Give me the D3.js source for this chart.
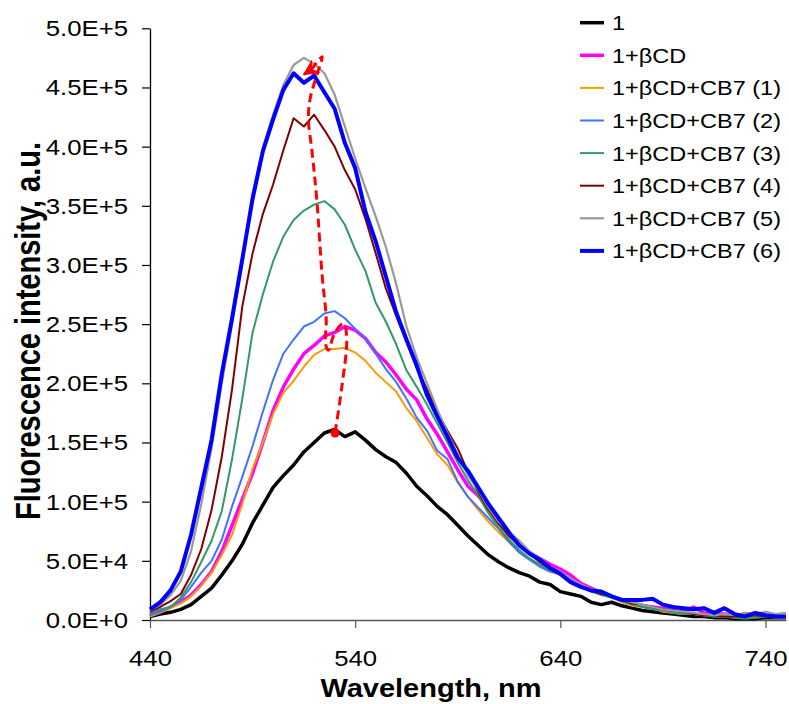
<!DOCTYPE html>
<html>
<head>
<meta charset="utf-8">
<script src="https://d3js.org/d3.v7.min.js"></script>
<style>
  body { margin: 0; background: #fff; }
  svg { display: block; font-family: "Liberation Sans", Arial, sans-serif; }
</style>
</head>
<body>
<svg width="789" height="704"></svg>

<script>
// spectra, values in units of 1E+5, sampled every 5 nm from 440 to 750
var wavelengths = d3.range(440, 751, 5);
var unit = 1e5;

var names = ["1", "1+\u03b2CD", "1+\u03b2CD+CB7 (1)", "1+\u03b2CD+CB7 (2)", "1+\u03b2CD+CB7 (3)",
             "1+\u03b2CD+CB7 (4)", "1+\u03b2CD+CB7 (5)", "1+\u03b2CD+CB7 (6)"];
var colors = ["#000000", "#ff00ff", "#ff9900", "#3f73ff", "#339966", "#800000", "#999999", "#0000ff"];
var widths = [3.5, 3.5, 2, 2, 2, 2, 2.2, 4];

var s1 = [0.03,0.05,0.065,0.09,0.13,0.20,0.27,0.38,0.50,0.64,
          0.82,0.97,1.12,1.22,1.31,1.42,1.50,1.58,1.61,1.55,
          1.59,1.52,1.44,1.38,1.33,1.24,1.13,1.05,0.96,0.89,
          0.80,0.71,0.63,0.55,0.49,0.44,0.40,0.37,0.32,0.30,
          0.24,0.22,0.20,0.15,0.13,0.15,0.12,0.10,0.08,0.07,
          0.06,0.05,0.04,0.03,0.03,0.02,0.02,0.01,0.01,0.01,
          0.02,0.02,0.02];
var s2 = [0.04,0.07,0.11,0.15,0.21,0.30,0.41,0.58,0.80,1.02,
          1.24,1.50,1.77,1.97,2.12,2.25,2.32,2.40,2.43,2.48,
          2.45,2.38,2.26,2.18,2.07,1.95,1.86,1.70,1.57,1.42,
          1.27,1.13,1.05,0.95,0.85,0.72,0.64,0.57,0.52,0.47,
          0.43,0.38,0.31,0.27,0.23,0.20,0.17,0.15,0.12,0.11,
          0.10,0.08,0.07,0.11,0.06,0.05,0.05,0.04,0.03,0.03,
          0.04,0.03,0.03];
var s3 = [0.03,0.06,0.10,0.14,0.20,0.29,0.40,0.55,0.72,0.98,
          1.28,1.50,1.74,1.92,2.02,2.14,2.24,2.29,2.29,2.30,
          2.26,2.19,2.09,2.01,1.93,1.79,1.68,1.54,1.40,1.31,
          1.16,1.04,0.93,0.83,0.74,0.66,0.57,0.51,0.46,0.41,
          0.38,0.33,0.30,0.26,0.22,0.19,0.15,0.12,0.11,0.10,
          0.07,0.06,0.05,0.05,0.04,0.04,0.03,0.03,0.02,0.03,
          0.04,0.03,0.02];
var s4 = [0.04,0.07,0.11,0.17,0.28,0.40,0.50,0.68,0.96,1.21,
          1.47,1.76,2.03,2.25,2.37,2.48,2.52,2.59,2.61,2.55,
          2.46,2.38,2.25,2.12,2.01,1.87,1.71,1.60,1.43,1.36,
          1.17,1.04,0.95,0.86,0.77,0.66,0.57,0.51,0.45,0.41,
          0.39,0.33,0.28,0.25,0.22,0.20,0.16,0.13,0.12,0.10,
          0.08,0.07,0.06,0.05,0.04,0.03,0.03,0.02,0.02,0.02,
          0.03,0.03,0.03];
var s5 = [0.06,0.09,0.11,0.19,0.32,0.49,0.67,0.92,1.36,1.87,
          2.43,2.75,3.03,3.24,3.38,3.46,3.51,3.54,3.47,3.34,
          3.13,2.95,2.68,2.52,2.33,2.11,1.97,1.82,1.66,1.50,
          1.33,1.18,1.05,0.90,0.78,0.68,0.59,0.52,0.47,0.42,
          0.39,0.33,0.28,0.24,0.21,0.19,0.16,0.13,0.11,0.09,
          0.08,0.06,0.05,0.05,0.04,0.03,0.03,0.02,0.01,0.02,
          0.03,0.02,0.02];
var s6 = [0.07,0.11,0.16,0.22,0.38,0.60,0.93,1.38,1.95,2.65,
          3.10,3.43,3.68,3.97,4.24,4.17,4.27,4.14,4.00,3.80,
          3.64,3.39,3.10,2.80,2.57,2.35,2.13,1.95,1.76,1.60,
          1.45,1.25,1.08,0.93,0.81,0.71,0.63,0.56,0.49,0.43,
          0.39,0.33,0.29,0.25,0.22,0.20,0.17,0.14,0.13,0.11,
          0.09,0.08,0.07,0.05,0.04,0.04,0.03,0.03,0.03,0.04,
          0.03,0.03,0.03];
var s7 = [0.08,0.13,0.21,0.33,0.58,0.98,1.45,2.00,2.50,3.02,
          3.60,3.99,4.27,4.52,4.69,4.75,4.70,4.62,4.44,4.17,
          3.90,3.65,3.41,3.15,2.84,2.48,2.22,2.00,1.78,1.58,
          1.40,1.22,1.10,0.95,0.83,0.74,0.67,0.58,0.52,0.45,
          0.41,0.35,0.30,0.26,0.24,0.21,0.17,0.15,0.13,0.11,
          0.09,0.08,0.07,0.06,0.05,0.04,0.05,0.04,0.06,0.05,
          0.07,0.05,0.06];
var s8 = [0.09,0.15,0.25,0.41,0.72,1.12,1.52,2.08,2.55,3.05,
          3.56,3.96,4.23,4.48,4.62,4.54,4.60,4.46,4.32,4.03,
          3.82,3.45,3.20,2.90,2.60,2.37,2.15,1.90,1.72,1.55,
          1.37,1.26,1.12,0.98,0.86,0.74,0.63,0.56,0.51,0.44,
          0.39,0.32,0.28,0.25,0.24,0.20,0.17,0.17,0.17,0.18,
          0.13,0.11,0.10,0.09,0.10,0.06,0.10,0.05,0.03,0.06,
          0.04,0.03,0.03];
var allSeries = [s1, s2, s3, s4, s5, s6, s7, s8];

// red dashed arrow following the peak maxima (wavelength, intensity/1E+5)
var shiftPath = [[530.2,1.58],[533.5,1.97],[535.9,2.37],[534.6,2.50],[532.7,2.49],[529.4,2.40],
                 [527.0,2.28],[525.6,2.33],[525.9,2.54],[523.8,2.93],[521.3,3.55],[518.9,3.97],
                 [517.2,4.23],[518.0,4.40],[520.5,4.56],[522.9,4.69],[524.0,4.76],[522.1,4.73],
                 [518.9,4.66],[515.1,4.61]];

var yTicks = d3.range(0, 500001, 50000);
var xTicks = [440, 540, 640, 740];

var svg = d3.select("svg");
var x = d3.scaleLinear().domain([440, 750]).range([150, 786]);
var y = d3.scaleLinear().domain([0, 5e5]).range([620, 28.3]);
var stretch = 1.12;

function sci(v) {
  if (v === 0) return "0.0E+0";
  var e = Math.floor(Math.log10(v) + 1e-9);
  return (v / Math.pow(10, e)).toFixed(1) + "E+" + e;
}

// axes
var gy = svg.append("g").attr("transform", "translate(150,0)")
  .call(d3.axisLeft(y).tickValues(yTicks).tickFormat(sci).tickSize(8).tickSizeOuter(0));
gy.attr("font-family", null).attr("font-size", 23);
gy.select(".domain").attr("stroke", "#000").attr("stroke-width", 1.3);
gy.selectAll(".tick line").attr("stroke", "#000").attr("stroke-width", 1.2);
gy.selectAll(".tick text").attr("fill", "#000")
  .attr("x", -22 / stretch).attr("transform", "scale(" + stretch + ",1)");

var gx = svg.append("g").attr("transform", "translate(0,620)")
  .call(d3.axisBottom(x).tickValues(xTicks).tickSize(8).tickSizeOuter(0).tickPadding(22));
gx.attr("font-family", null).attr("font-size", 23);
gx.select(".domain").attr("stroke", "#555").attr("stroke-width", 1.3);
gx.selectAll(".tick line").attr("stroke", "#555").attr("stroke-width", 1.2);
gx.selectAll(".tick text").attr("fill", "#000").attr("transform", "scale(" + stretch + ",1)");

// spectra
var line = d3.line()
  .x(function(d, i) { return x(wavelengths[i]); })
  .y(function(d) { return y(d * unit); });

allSeries.forEach(function(s, k) {
  svg.append("path")
    .attr("d", line(s))
    .attr("fill", "none")
    .attr("stroke", colors[k])
    .attr("stroke-width", widths[k])
    .attr("stroke-linejoin", "round");
});

// annotation
var defs = svg.append("defs");
defs.append("marker").attr("id", "arrow")
  .attr("viewBox", "0 0 10 10").attr("refX", 9).attr("refY", 5)
  .attr("markerWidth", 5.5).attr("markerHeight", 5.5).attr("orient", "auto")
  .append("path").attr("d", "M0,0 L10,5 L0,10 L3,5 z").attr("fill", "#ff0000");

var shiftLine = d3.line()
  .x(function(d) { return x(d[0]); })
  .y(function(d) { return y(d[1] * unit); })
  .curve(d3.curveCatmullRom.alpha(0.5));

svg.append("path")
  .attr("d", shiftLine(shiftPath))
  .attr("fill", "none")
  .attr("stroke", "#ff0000")
  .attr("stroke-width", 3)
  .attr("stroke-dasharray", "9,5")
  .attr("marker-end", "url(#arrow)");

svg.append("circle")
  .attr("cx", x(shiftPath[0][0])).attr("cy", y(shiftPath[0][1] * unit))
  .attr("r", 4.5).attr("fill", "#ff0000");

// legend
var legend = svg.append("g");
names.forEach(function(n, i) {
  var ly = 22.7 + i * 32.6;
  legend.append("line")
    .attr("x1", 580).attr("x2", 604).attr("y1", ly).attr("y2", ly)
    .attr("stroke", colors[i]).attr("stroke-width", widths[i]);
  legend.append("text")
    .attr("transform", "translate(612," + ly + ") scale(1.12,1)")
    .attr("dy", "0.36em")
    .attr("font-size", 21)
    .text(n);
});

// titles
svg.append("text")
  .attr("transform", "translate(431,697) scale(1.16,1)")
  .attr("text-anchor", "middle")
  .attr("font-weight", "bold")
  .attr("font-size", 25)
  .text("Wavelength, nm");

svg.append("text")
  .attr("transform", "translate(40,331) scale(1.2,1) rotate(-90)")
  .attr("text-anchor", "middle")
  .attr("font-weight", "bold")
  .attr("font-size", 29)
  .text("Fluorescence intensity, a.u.");
</script>
</body>
</html>
